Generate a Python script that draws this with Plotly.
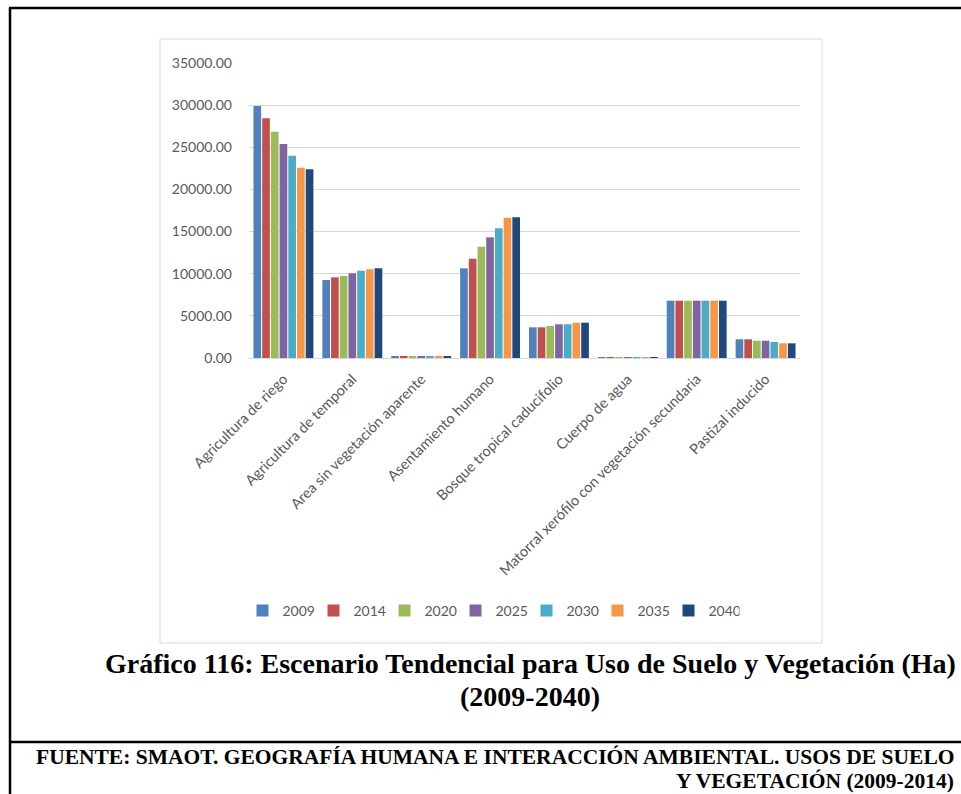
import plotly.graph_objects as go

categories = [
    "Agricultura de riego",
    "Agricultura de temporal",
    "Area sin vegetación aparente",
    "Asentamiento humano",
    "Bosque tropical caducifolio",
    "Cuerpo de agua",
    "Matorral xerófilo con vegetación secundaria",
    "Pastizal inducido",
]
years = ["2009", "2014", "2020", "2025", "2030", "2035", "2040"]
v2009 = [29900, 9250, 150, 10640, 3640, 15, 6800, 2220]
v2014 = [28440, 9570, 150, 11780, 3640, 15, 6800, 2220]
v2020 = [26850, 9730, 150, 13210, 3800, 15, 6800, 2050]
v2025 = [25390, 10050, 150, 14320, 4000, 15, 6800, 2050]
v2030 = [24000, 10360, 150, 15380, 4000, 15, 6800, 1900]
v2035 = [22580, 10520, 150, 16650, 4190, 15, 6800, 1740]
v2040 = [22390, 10640, 150, 16690, 4190, 15, 6800, 1740]
series = [v2009, v2014, v2020, v2025, v2030, v2035, v2040]
colors = ["#4F81BD", "#C0504D", "#9BBB59", "#8064A2", "#4BACC6", "#F79646", "#1F497D"]

title_lines = ["Gráfico 116: Escenario Tendencial para Uso de Suelo y Vegetación (Ha)", "(2009-2040)"]
source_lines = ["FUENTE: SMAOT. GEOGRAFÍA HUMANA E INTERACCIÓN AMBIENTAL. USOS DE SUELO",
                "Y VEGETACIÓN (2009-2014)"]

W, H = 961, 794
PL, PR, PT, PB = 249, 800, 63, 358


def px(x):
    return (x - PL) / (PR - PL)


def py(y):
    return (PB - y) / (PB - PT)


fig = go.Figure()
for yr, vals, c in zip(years, series, colors):
    fig.add_trace(go.Bar(x=categories, y=vals, name=yr, marker=dict(color=c, line=dict(width=0))))

shapes = [
    dict(type="rect", xref="paper", yref="paper", x0=px(160), x1=px(822), y0=py(39), y1=py(643),
         line=dict(color="#D9D9D9", width=1), layer="below"),
    dict(type="line", xref="paper", yref="paper", x0=px(9), x1=px(961), y0=py(8), y1=py(8),
         line=dict(color="black", width=2.5)),
    dict(type="line", xref="paper", yref="paper", x0=px(10), x1=px(10), y0=py(8), y1=py(794),
         line=dict(color="black", width=2.5)),
    dict(type="line", xref="paper", yref="paper", x0=px(10), x1=px(961), y0=py(742), y1=py(742),
         line=dict(color="black", width=2.5)),
]

serif = "Liberation Serif, Times New Roman, serif"
annotations = [
    dict(text="<b>%s</b>" % title_lines[0], xref="paper", yref="paper", x=px(530), y=py(663),
         xanchor="center", yanchor="middle", showarrow=False, font=dict(family=serif, size=28, color="black")),
    dict(text="<b>%s</b>" % title_lines[1], xref="paper", yref="paper", x=px(530), y=py(696),
         xanchor="center", yanchor="middle", showarrow=False, font=dict(family=serif, size=28, color="black")),
    dict(text="<b>%s</b>" % source_lines[0], xref="paper", yref="paper", x=px(956), y=py(757),
         xanchor="right", yanchor="middle", showarrow=False, font=dict(family=serif, size=21.5, color="black")),
    dict(text="<b>%s</b>" % source_lines[1], xref="paper", yref="paper", x=px(956), y=py(781),
         xanchor="right", yanchor="middle", showarrow=False, font=dict(family=serif, size=21.5, color="black")),
]

fig.update_layout(
    width=W, height=H,
    margin=dict(l=PL, r=W - PR, t=PT, b=H - PB, pad=0),
    paper_bgcolor="white", plot_bgcolor="white",
    barmode="group", bargap=0.115, bargroupgap=0.12,
    font=dict(family="Lato, Carlito, Calibri, sans-serif", color="#595959", size=14),
    showlegend=True,
    legend=dict(orientation="h", xref="paper", x=px(491), xanchor="center", y=py(611), yanchor="middle",
                font=dict(size=14, color="#595959"), itemwidth=30, traceorder="normal",
                entrywidth=26, entrywidthmode="pixels", bgcolor="rgba(0,0,0,0)"),
    shapes=shapes,
    annotations=annotations,
)
fig.update_yaxes(range=[0, 35000], dtick=5000, tickformat=".2f", showgrid=True, gridcolor="#D9D9D9",
                 gridwidth=1, zeroline=False, showline=False, ticks="", ticklabelstandoff=16,
                 tickfont=dict(size=14, color="#595959"))
fig.update_xaxes(showline=True, linecolor="#D9D9D9", linewidth=1, tickangle=-45, ticks="",
                 tickfont=dict(size=14.5, color="#595959"), ticklabelstandoff=6)

fig.write_html("out.html", config={"displayModeBar": False},
               post_script="document.body.style.margin='0';document.body.style.overflow='hidden';")
